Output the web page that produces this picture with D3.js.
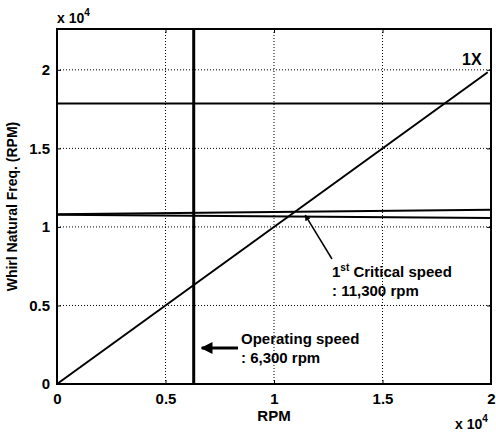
<!DOCTYPE html>
<html>
<head>
<meta charset="utf-8">
<script src="https://cdn.jsdelivr.net/npm/d3@7"></script>
<style>
  body { margin: 0; background: #fff; }
  text { font-family: "Liberation Sans", Arial, sans-serif; font-weight: bold; fill: #000; }
</style>
</head>
<body>
<div id="chart"></div>
<script>

// data, in RPM
const xTicks = [0, 5000, 10000, 15000, 20000] ;
const yTicks = [0, 5000, 10000, 15000, 20000] ;
const tickLabels = ["0", "0.5", "1", "1.5", "2"] ;

const speed = [0, 19850] ;
const oneX = [0, 19850] ;

const modeSpeed = [0, 20000] ;
const mode1Fwd = [10800, 11100] ;
const mode1Bwd = [10780, 10560] ;
const mode2 = [17850, 17850] ;

const operatingSpeed = 6300 ;
const criticalSpeed = 11300 ;

const width = 496 ;
const height = 434 ;
const margin = { top: 29, right: 5, bottom: 50, left: 57 } ;

const svg = d3.select("#chart").append("svg")
	.attr("width", width)
	.attr("height", height) ;

const x = d3.scaleLinear().domain([0, 20000]).range([margin.left, width - margin.right]) ;
const y = d3.scaleLinear().domain([0, 22600]).range([height - margin.bottom, margin.top]) ;

const x0 = x.range()[0], x1 = x.range()[1] ;
const y0 = y.range()[0], y1 = y.range()[1] ;

// dotted grid
const grid = svg.append("g").attr("stroke", "#000").attr("stroke-width", 1).attr("stroke-dasharray", "1,2") ;
xTicks.slice(1, -1).forEach(function(t) {
	grid.append("line").attr("x1", x(t)).attr("x2", x(t)).attr("y1", y0).attr("y2", y1) ;
}) ;
yTicks.slice(1).forEach(function(t) {
	grid.append("line").attr("x1", x0).attr("x2", x1).attr("y1", y(t)).attr("y2", y(t)) ;
}) ;

// axes, ticks pointing inward like matlab
const fmt = function(d, i) { return tickLabels[i] ; } ;
svg.append("g").attr("transform", "translate(0," + y0 + ")")
	.call(d3.axisBottom(x).tickValues(xTicks).tickFormat(fmt).tickSizeInner(-4).tickSizeOuter(0).tickPadding(9)) ;
svg.append("g").attr("transform", "translate(" + x0 + ",0)")
	.call(d3.axisLeft(y).tickValues(yTicks).tickFormat(fmt).tickSizeInner(-4).tickSizeOuter(0).tickPadding(7)) ;
svg.append("g").attr("transform", "translate(0," + y1 + ")")
	.call(d3.axisTop(x).tickValues(xTicks).tickFormat("").tickSizeInner(-4).tickSizeOuter(0)) ;
svg.append("g").attr("transform", "translate(" + x1 + ",0)")
	.call(d3.axisRight(y).tickValues(yTicks).tickFormat("").tickSizeInner(-4).tickSizeOuter(0)) ;

svg.selectAll(".domain").remove() ;
svg.selectAll(".tick line").attr("stroke", "#000").attr("stroke-width", 1) ;
svg.selectAll(".tick text")
	.style("font-size", "15px")
	.style("font-family", "'Liberation Sans', Arial, sans-serif")
	.style("font-weight", "bold") ;

svg.append("rect")
	.attr("x", x0).attr("y", y1)
	.attr("width", x1 - x0).attr("height", y0 - y1)
	.attr("fill", "none").attr("stroke", "#000").attr("stroke-width", 2) ;

// lines
const line = d3.line().x(function(d) { return x(d[0]) ; }).y(function(d) { return y(d[1]) ; }) ;
const plots = svg.append("g").attr("fill", "none").attr("stroke", "#000").attr("stroke-width", 2) ;

plots.append("path").attr("d", line(d3.zip(speed, oneX))) ;
plots.append("path").attr("d", line(d3.zip(modeSpeed, mode1Fwd))) ;
plots.append("path").attr("d", line(d3.zip(modeSpeed, mode1Bwd))) ;
plots.append("path").attr("d", line(d3.zip(modeSpeed, mode2))) ;
plots.append("line")
	.attr("x1", x(operatingSpeed)).attr("x2", x(operatingSpeed))
	.attr("y1", y0).attr("y2", y1).attr("stroke-width", 3) ;

// annotations
svg.append("defs").append("marker")
	.attr("id", "head").attr("viewBox", "0 0 10 10")
	.attr("refX", 9).attr("refY", 5)
	.attr("markerWidth", 4).attr("markerHeight", 4)
	.attr("markerUnits", "strokeWidth")
	.attr("orient", "auto")
	.append("path").attr("d", "M0,0 L10,5 L0,10 z").attr("fill", "#000") ;

svg.append("text").attr("x", 462).attr("y", 65).style("font-size", "16px").text("1X") ;

// pointer to the 1st critical speed
svg.append("line")
	.attr("x1", 332).attr("y1", 259)
	.attr("x2", x(criticalSpeed) + 3).attr("y2", y(10750))
	.attr("stroke", "#000").attr("stroke-width", 1.5)
	.attr("marker-end", "url(#head)") ;

const t1 = svg.append("text").attr("x", 332).attr("y", 277).style("font-size", "15px") ;
t1.append("tspan").text("1") ;
t1.append("tspan").attr("dy", -6).style("font-size", "10px").text("st") ;
t1.append("tspan").attr("dy", 6).text(" Critical speed") ;
svg.append("text").attr("x", 332).attr("y", 296).style("font-size", "15px").text(": 11,300 rpm") ;

svg.append("line")
	.attr("x1", 238).attr("y1", 348)
	.attr("x2", x(operatingSpeed) + 8).attr("y2", 348)
	.attr("stroke", "#000").attr("stroke-width", 3)
	.attr("marker-end", "url(#head)") ;

svg.append("text").attr("x", 241).attr("y", 344).style("font-size", "15px").text("Operating speed") ;
svg.append("text").attr("x", 241).attr("y", 363).style("font-size", "15px").text(": 6,300 rpm") ;

// axis titles and exponent labels
svg.append("text").attr("x", (x0 + x1) / 2).attr("y", 421).attr("text-anchor", "middle")
	.style("font-size", "15px").text("RPM") ;

svg.append("text")
	.attr("transform", "translate(17," + ((y0 + y1) / 2) + ") rotate(-90)")
	.attr("text-anchor", "middle")
	.style("font-size", "14px").text("Whirl Natural Freq. (RPM)") ;

function expLabel(px, py) {
	const t = svg.append("text").attr("x", px).attr("y", py).style("font-size", "14px") ;
	t.append("tspan").text("x 10") ;
	t.append("tspan").attr("dy", -7).style("font-size", "10px").text("4") ;
}
expLabel(57, 23) ;
expLabel(455, 429) ;

</script>
</body>
</html>
